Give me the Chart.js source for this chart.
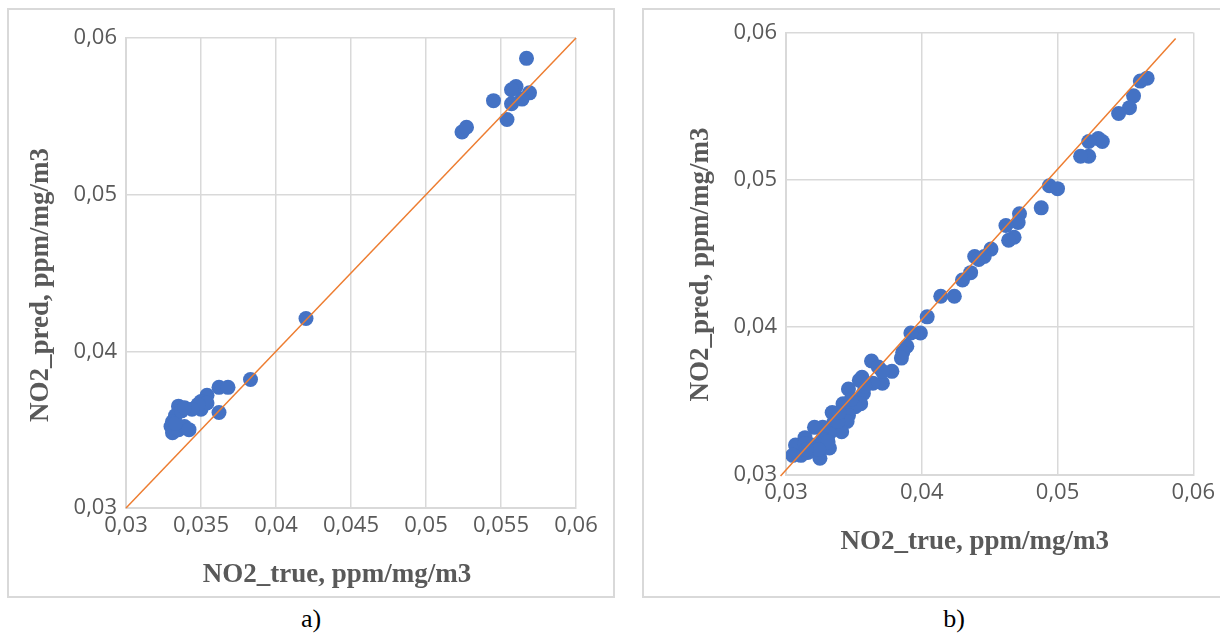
<!DOCTYPE html>
<html>
<head>
<meta charset="utf-8">
<script src="https://cdn.jsdelivr.net/npm/chart.js@4/dist/chart.umd.min.js"></script>
<style>
  html, body { margin: 0; padding: 0; background: #fff; overflow: hidden; }
  body { width: 1220px; height: 635px; position: relative; }
  .box { position: absolute; box-sizing: border-box; border: 2px solid #d9d9d9; background: #fff; }
  .box .inner { position: absolute; left: 0; top: 0; right: 0; bottom: 0; }
  .cap { position: absolute; top: 604px; font: 26px "Liberation Serif", "Times New Roman", serif; color: #000; transform: translateX(-50%); }
</style>
</head>
<body>
<div class="box" style="left:7px;top:8px;width:608px;height:590px"><div class="inner"><canvas id="chartA"></canvas></div></div>
<div class="box" style="left:642px;top:8px;width:580px;height:590px"><div class="inner"><canvas id="chartB"></canvas></div></div>
<div class="cap" style="left:311px">a)</div>
<div class="cap" style="left:954px">b)</div>
<script>
// values
const trueA = [0.0567, 0.0569, 0.0564, 0.0560, 0.0557, 0.0557, 0.0545, 0.0554, 0.0524, 0.0527,
  0.0420, 0.0383, 0.0362, 0.0368, 0.0362, 0.0354, 0.0350, 0.0350, 0.0354, 0.0348,
  0.0344, 0.0335, 0.0333, 0.0331, 0.0330, 0.0331, 0.0335, 0.0339, 0.0342, 0.0333,
  0.0337, 0.0339];
const predA = [0.0587, 0.0565, 0.0561, 0.0569, 0.0567, 0.0558, 0.0560, 0.0548, 0.0540, 0.0543,
  0.0421, 0.0382, 0.0377, 0.0377, 0.0361, 0.0372, 0.0368, 0.0363, 0.0367, 0.0366,
  0.0363, 0.0365, 0.0359, 0.0355, 0.0352, 0.0348, 0.0350, 0.0352, 0.0350, 0.0354,
  0.0362, 0.0364];

const trueB = [0.0566, 0.0561, 0.0556, 0.0553, 0.0545, 0.0530, 0.0533, 0.0523, 0.0523, 0.0517,
  0.0494, 0.0500, 0.0488, 0.0472, 0.0471, 0.0462, 0.0468, 0.0464, 0.0451, 0.0446,
  0.0439, 0.0442, 0.0436, 0.0430, 0.0424, 0.0414, 0.0404, 0.0399, 0.0392, 0.0389,
  0.0386, 0.0385, 0.0378, 0.0371, 0.0364, 0.0363, 0.0368, 0.0371, 0.0356, 0.0357,
  0.0355, 0.0346, 0.0351, 0.0342, 0.0346, 0.0345, 0.0334, 0.0335, 0.0341, 0.0332,
  0.0327, 0.0321, 0.0332, 0.0325, 0.0314, 0.0319, 0.0316, 0.0311, 0.0308, 0.0307,
  0.0314, 0.0305, 0.0327, 0.0338, 0.0331, 0.0324, 0.0315, 0.0339, 0.0348, 0.0358,
  0.0354];
const predB = [0.0569, 0.0567, 0.0557, 0.0549, 0.0545, 0.0528, 0.0526, 0.0526, 0.0516, 0.0516,
  0.0496, 0.0494, 0.0481, 0.0477, 0.0471, 0.0469, 0.0461, 0.0459, 0.0453, 0.0448,
  0.0448, 0.0446, 0.0437, 0.0432, 0.0421, 0.0421, 0.0407, 0.0396, 0.0396, 0.0387,
  0.0383, 0.0379, 0.0370, 0.0362, 0.0362, 0.0377, 0.0373, 0.0370, 0.0366, 0.0355,
  0.0348, 0.0358, 0.0346, 0.0348, 0.0340, 0.0336, 0.0342, 0.0335, 0.0329, 0.0328,
  0.0332, 0.0332, 0.0318, 0.0311, 0.0325, 0.0320, 0.0315, 0.0313, 0.0316, 0.0320,
  0.0321, 0.0313, 0.0324, 0.0336, 0.0322, 0.0317, 0.0317, 0.0342, 0.0351, 0.0360,
  0.0364];

// orange reference lines (end points)
const lineAx = [0.03, 0.06];
const lineAy = [0.03, 0.06];
const lineBx = [0.0296, 0.0587];
const lineBy = [0.0299, 0.0596];

const xTicksA = [0.03, 0.035, 0.04, 0.045, 0.05, 0.055, 0.06];
const xLabelsA = ["0,03", "0,035", "0,04", "0,045", "0,05", "0,055", "0,06"];
const yTicks = [0.03, 0.04, 0.05, 0.06];
const yLabels = ["0,03", "0,04", "0,05", "0,06"];
const xTicksB = [0.03, 0.04, 0.05, 0.06];
const xLabelsB = ["0,03", "0,04", "0,05", "0,06"];

const xTitle = "NO2_true, ppm/mg/m3";
const yTitle = "NO2_pred, ppm/mg/m3";

const BLUE = "#4472C4";
const ORANGE = "#ED7D31";
const GRID = "#d9d9d9";
const TEXT = "#595959";

// axis titles sit a bit off the plot centre, like in the reference
const axisTitles = {
  id: "axisTitles",
  afterDraw(chart, args, o) {
    const { ctx, chartArea: a } = chart;
    ctx.save();
    ctx.fillStyle = TEXT;
    ctx.font = 'bold 27px "Liberation Serif", "Times New Roman", serif';
    ctx.textAlign = "center";
    ctx.textBaseline = "middle";
    ctx.fillText(o.x, (a.left + a.right) / 2 + o.dx, a.bottom + o.xGap);
    ctx.translate(a.left - o.yGap, (a.top + a.bottom) / 2 + o.dy);
    ctx.rotate(-Math.PI / 2);
    ctx.fillText(o.y, 0, 0);
    ctx.restore();
  }
};

function toPoints(xs, ys) {
  return xs.map((x, i) => ({ x: x, y: ys[i] }));
}

function makeChart(id, xs, ys, lx, ly, xTicks, xLabels, pad, yWidth, xHeight, titleOpts) {
  const tickFont = { family: '"Open Sans", sans-serif', size: 22 };
  return new Chart(document.getElementById(id), {
    type: "scatter",
    data: {
      datasets: [
        {
          type: "line",
          data: toPoints(lx, ly),
          borderColor: ORANGE,
          borderWidth: 1.5,
          pointRadius: 0,
          fill: false,
          clip: false,
          order: 0
        },
        {
          data: toPoints(xs, ys),
          backgroundColor: BLUE,
          borderColor: BLUE,
          borderWidth: 0,
          pointRadius: 7.5,
          order: 1
        }
      ]
    },
    options: {
      responsive: true,
      maintainAspectRatio: false,
      animation: false,
      events: [],
      layout: { padding: pad },
      plugins: {
        legend: { display: false },
        tooltip: { enabled: false },
        axisTitles: titleOpts
      },
      scales: {
        x: {
          type: "linear",
          min: 0.03,
          max: 0.06,
          afterBuildTicks: s => { s.ticks = xTicks.map(v => ({ value: v })); },
          afterFit: s => { s.height = xHeight; },
          ticks: {
            color: TEXT,
            font: tickFont,
            padding: 5,
            maxRotation: 0,
            autoSkip: false,
            callback: (v, i) => xLabels[i]
          },
          grid: { color: GRID, lineWidth: 1.5, drawTicks: false },
          border: { color: GRID, width: 2 }
        },
        y: {
          type: "linear",
          min: 0.03,
          max: 0.06,
          afterBuildTicks: s => { s.ticks = yTicks.map(v => ({ value: v })); },
          afterFit: s => { s.width = yWidth; },
          ticks: {
            color: TEXT,
            font: tickFont,
            padding: 9,
            autoSkip: false,
            callback: (v, i) => yLabels[i]
          },
          grid: { color: GRID, lineWidth: 1.5, drawTicks: false },
          border: { color: GRID, width: 2 }
        }
      }
    },
    plugins: [axisTitles]
  });
}

makeChart("chartA", trueA, predA, lineAx, lineAy, xTicksA, xLabelsA,
  { top: 28, right: 37, left: 0, bottom: 0 }, 117, 88,
  { x: xTitle, y: yTitle, dx: -14, xGap: 67, yGap: 85, dy: 12 });

makeChart("chartB", trueB, predB, lineBx, lineBy, xTicksB, xLabelsB,
  { top: 22.5, right: 25, left: 0, bottom: 0 }, 142, 121.5,
  { x: xTitle, y: yTitle, dx: -15, xGap: 68, yGap: 85, dy: 11 });
</script>
</body>
</html>
